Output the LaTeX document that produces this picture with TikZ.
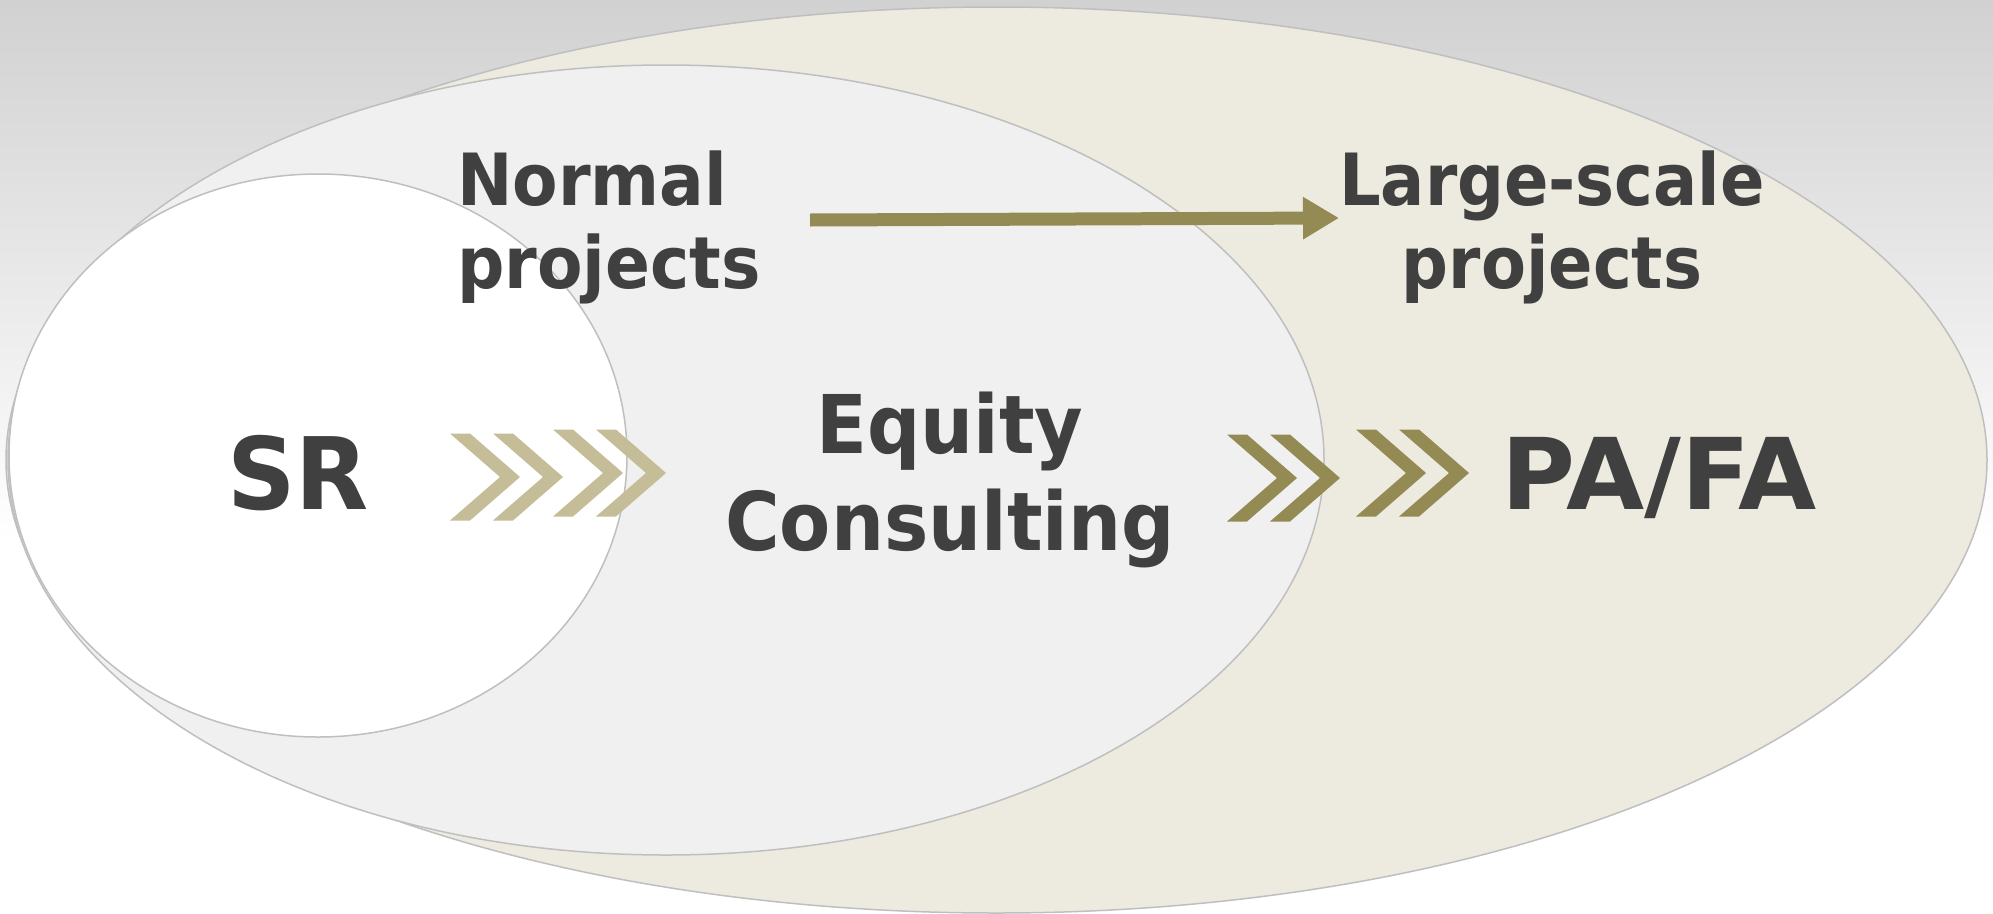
\documentclass[tikz,border=0pt]{standalone}
\usepackage{fontspec}
\usepackage{graphicx}
\setmainfont{DejaVu Sans}
\usetikzlibrary{arrows.meta}

\definecolor{txt}{HTML}{404040}
\definecolor{bgtop}{HTML}{D1D1D1}
\definecolor{tanfill}{HTML}{EDEBE0}
\definecolor{greyfill}{HTML}{F0F0F0}
\definecolor{rim}{HTML}{BFBFBF}
\definecolor{tanlight}{HTML}{C4BD97}
\definecolor{tandark}{HTML}{948A54}

% two stacked lines, baseline = first line
\newcommand{\twoc}[3]{\vtop{\baselineskip=#1\lineskiplimit=-1000pt\lineskip=0pt\halign{\hfil##\hfil\cr#2\cr#3\cr}}}
\newcommand{\twol}[3]{\vtop{\baselineskip=#1\lineskiplimit=-1000pt\lineskip=0pt\halign{##\hfil\cr#2\cr#3\cr}}}

\begin{document}
\begin{tikzpicture}[x=1pt,y=-1pt,
  zone/.style={draw=rim, line width=1.5pt},
  lbl/.style={text=txt, inner sep=0pt, font=\bfseries},
  arrowline/.style={draw=tandark, line width=13pt,
    -{Triangle[length=36pt,width=40pt]}},
  pics/chev/.style={code={
    \fill[#1] (0,-43.5) -- (20,-43.5) -- (70,0) -- (20,43.5) -- (0,43.5) -- (50,0) -- cycle;
  }}]

\useasboundingbox (0,0) rectangle (1993,913);
\fill[white] (0,0) rectangle (1993,913);
\shade[top color=bgtop, bottom color=white] (0,0) rectangle (1993,540);

% nested zones
\draw[zone, fill=tanfill]  (996.5,460) ellipse [x radius=990.5pt, y radius=453pt];
\draw[zone, fill=greyfill] (666,460)   ellipse [x radius=658pt,   y radius=395pt];
\draw[zone, fill=white]    (318,455.5) ellipse [x radius=309pt,   y radius=281.5pt];

% chevrons
\foreach \x/\y in {450/477, 493/477, 553/473, 596/473}
  \pic at (\x,\y) {chev=tanlight};
\foreach \x/\y in {1227/478, 1270/478, 1356/473, 1399/473}
  \pic at (\x,\y) {chev=tandark};

% labels
\node[lbl, anchor=base west] (normal) at (457,205)
  {\fontsize{72pt}{83pt}\selectfont\scalebox{0.92}[1]{\twol{83pt}{Normal}{projects}}};
\node[lbl, anchor=base] (large) at (1552,205)
  {\fontsize{72pt}{83pt}\selectfont\scalebox{0.91}[1]{\twoc{83pt}{Large-scale}{projects}}};
\node[lbl, anchor=base] (equity) at (950,453)
  {\fontsize{81pt}{97pt}\selectfont\scalebox{0.92}[1]{\twoc{97pt}{Equity}{Consulting}}};
\node[lbl, anchor=base] (sr) at (298,509)
  {\fontsize{100pt}{110pt}\selectfont\scalebox{0.95}[1]{SR}};
\node[lbl, anchor=base] (pafa) at (1659,509)
  {\fontsize{99pt}{110pt}\selectfont\scalebox{1.02}[1]{PA/FA}};

% growth arrow
\coordinate (arrS) at (810,220);
\coordinate (arrE) at (1339,218);
\draw[arrowline] (arrS) -- (arrE);

\end{tikzpicture}
\end{document}
